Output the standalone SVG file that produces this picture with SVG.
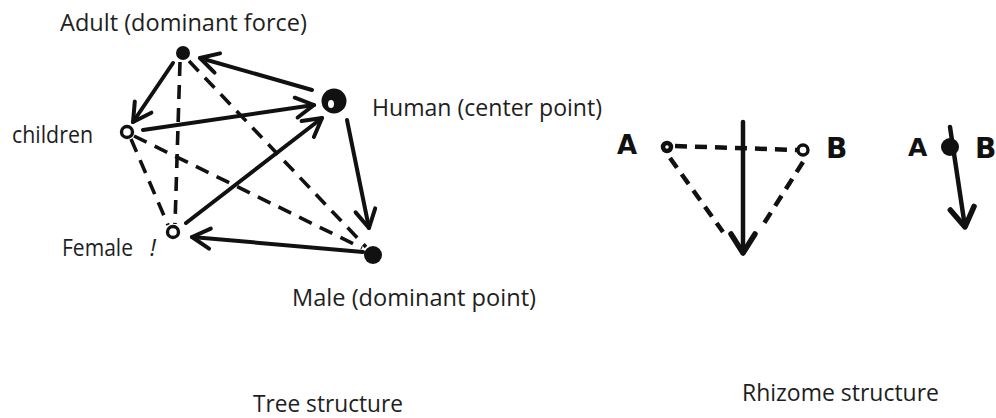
<svg xmlns="http://www.w3.org/2000/svg" width="996" height="418" viewBox="0 0 996 418">
<style>
.lbl{font-family:"Open Sans","Liberation Sans",sans-serif;font-size:23px;fill:#1e1e1e}
.hand{font-family:"DejaVu Sans","Liberation Sans",sans-serif;font-weight:bold;fill:#111}
.solid{stroke:#111;stroke-width:4;fill:none;stroke-linecap:round}
.dash{stroke:#111;stroke-width:3.6;fill:none;stroke-dasharray:14 9}
.rdash{stroke:#111;stroke-width:4.5;fill:none;stroke-dasharray:12 8}
.thick{stroke:#111;stroke-width:4.5;fill:none;stroke-linecap:round}
.dot{fill:#111}
.ring{fill:#fff;stroke:#111;stroke-width:3.4}
</style>
<defs>
<marker id="ah" markerUnits="userSpaceOnUse" markerWidth="28" markerHeight="28" refX="22" refY="13" orient="auto" overflow="visible">
<path d="M4,3 L22,13 L4,23" fill="none" stroke="#111" stroke-width="4" stroke-linecap="round" stroke-linejoin="round"/>
</marker>
<marker id="ahb" markerUnits="userSpaceOnUse" markerWidth="30" markerHeight="30" refX="23" refY="14" orient="auto" overflow="visible">
<path d="M4,2 L23,14 L4,26" fill="none" stroke="#111" stroke-width="5.5" stroke-linecap="round" stroke-linejoin="round"/>
</marker>
</defs>
<rect width="996" height="418" fill="#fff"/>

<g id="connectors">
<line class="dash" x1="180" y1="62" x2="175" y2="224"/>
<line class="dash" x1="189" y1="61" x2="366" y2="247"/>
<line class="dash" x1="131" y1="139" x2="168" y2="225"/>
<line class="dash" x1="134" y1="136" x2="362" y2="248"/>
<line class="solid" x1="312" y1="90" x2="200" y2="58" marker-end="url(#ah)"/>
<line class="solid" x1="173" y1="63" x2="133" y2="122" marker-end="url(#ah)"/>
<line class="solid" x1="143" y1="130" x2="314" y2="105" marker-end="url(#ah)"/>
<line class="solid" x1="186" y1="223" x2="322" y2="118" marker-end="url(#ah)"/>
<line class="solid" x1="347" y1="120" x2="369" y2="228" marker-end="url(#ah)"/>
<line class="solid" x1="363" y1="252" x2="192" y2="237" marker-end="url(#ah)"/>
<line class="rdash" x1="675" y1="146" x2="797" y2="150"/>
<line class="rdash" x1="670" y1="158" x2="723" y2="232"/>
<line class="rdash" x1="803" y1="162" x2="763" y2="225"/>
<line class="thick" x1="743" y1="122" x2="743" y2="253" marker-end="url(#ahb)"/>
<line class="thick" x1="950" y1="127" x2="965" y2="227" marker-end="url(#ahb)"/>
</g>

<g id="node-adult">
<circle class="dot" cx="183" cy="53" r="7"/>
<text class="lbl" x="60" y="31" textLength="247" lengthAdjust="spacingAndGlyphs">Adult (dominant force)</text>
</g>
<g id="node-human">
<circle class="dot" cx="334" cy="101" r="12.5"/>
<ellipse cx="331" cy="104" rx="3" ry="4" fill="#fff"/>
<text class="lbl" x="372" y="116" textLength="230" lengthAdjust="spacingAndGlyphs">Human (center point)</text>
</g>
<g id="node-children">
<circle class="ring" cx="127" cy="132" r="5.5"/>
<text class="lbl" x="12" y="143" textLength="81" lengthAdjust="spacingAndGlyphs">children</text>
</g>
<g id="node-female">
<circle class="ring" cx="173" cy="232" r="5.5"/>
<text class="lbl" x="62" y="256" textLength="71" lengthAdjust="spacingAndGlyphs">Female</text>
<text class="lbl" x="150" y="256" font-style="italic" fill="#555">!</text>
</g>
<g id="node-male">
<circle class="dot" cx="373" cy="255" r="9"/>
<text class="lbl" x="292" y="306" textLength="244" lengthAdjust="spacingAndGlyphs">Male (dominant point)</text>
</g>
<g id="title-tree">
<text class="lbl" x="253" y="412" textLength="150" lengthAdjust="spacingAndGlyphs">Tree structure</text>
</g>

<g id="node-rA">
<text class="hand" x="617" y="154" font-size="26">A</text>
<circle cx="667" cy="147" r="4" fill="#fff" stroke="#111" stroke-width="4.5"/>
</g>
<g id="node-rB">
<circle class="ring" cx="803" cy="150" r="5"/>
<text class="hand" x="826" y="158" font-size="28">B</text>
</g>
<g id="node-rAB">
<text class="hand" x="908" y="156" font-size="25">A</text>
<circle class="dot" cx="950" cy="147" r="9"/>
<text class="hand" x="975" y="158" font-size="28">B</text>
</g>
<g id="title-rhizome">
<text class="lbl" x="742" y="401" textLength="197" lengthAdjust="spacingAndGlyphs">Rhizome structure</text>
</g>
</svg>
